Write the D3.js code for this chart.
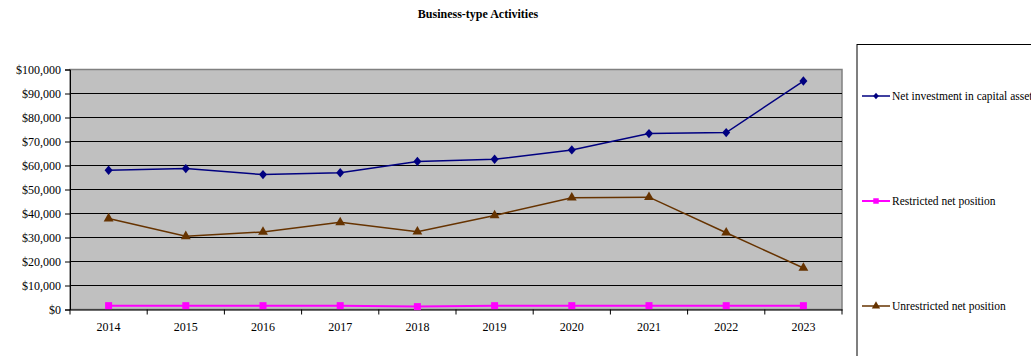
<!DOCTYPE html>
<html>
<head>
<meta charset="utf-8">
<script src="https://cdn.jsdelivr.net/npm/d3@7/dist/d3.min.js"></script>
<style>
  html, body { margin: 0; padding: 0; background: #fff; }
  svg { display: block; }
  svg text { font-family: "Liberation Serif", "Times New Roman", "DejaVu Serif", serif; }
</style>
</head>
<body>
<svg id="chart" width="1031" height="356"></svg>
<script>
// Fiscal years shown on the x axis
const years = ["2014", "2015", "2016", "2017", "2018", "2019", "2020", "2021", "2022", "2023"];

// Net position components (in thousands of dollars)
const netInvestment = [58000, 58700, 56200, 57000, 61700, 62600, 66500, 73300, 73700, 95200];
const restricted = [1600, 1600, 1600, 1600, 1200, 1600, 1600, 1600, 1600, 1600];
const unrestricted = [37900, 30500, 32300, 36300, 32400, 39200, 46600, 46800, 32000, 17300];

const seriesNames = ["Net investment in capital assets", "Restricted net position", "Unrestricted net position"];
const yTicks = [0, 10000, 20000, 30000, 40000, 50000, 60000, 70000, 80000, 90000, 100000];

// A squat diamond, close to square proportions
const wideDiamond = {
  draw(ctx, size) {
    const r = Math.sqrt(size) / 2 * 1.15;
    ctx.moveTo(0, -r * 1.05);
    ctx.lineTo(r * 0.9, 0);
    ctx.lineTo(0, r * 1.05);
    ctx.lineTo(-r * 0.9, 0);
    ctx.closePath();
  }
};

const series = [
  { name: seriesNames[0], values: netInvestment, color: "#000080", symbol: wideDiamond, size: 60, width: 1.5 },
  { name: seriesNames[1], values: restricted, color: "#FF00FF", symbol: d3.symbolSquare, size: 49, width: 2 },
  { name: seriesNames[2], values: unrestricted, color: "#663300", symbol: d3.symbolTriangle, size: 42, width: 1.5 }
];

const svg = d3.select("#chart");
const plot = { left: 70, right: 842, top: 69.5, bottom: 309.5 };

const x = d3.scaleBand().domain(years).range([plot.left, plot.right]);
const y = d3.scaleLinear().domain([0, 100000]).range([plot.bottom, plot.top]);
const serif = "Liberation Serif, Times New Roman, serif";

// Title
svg.append("text")
  .attr("x", 478).attr("y", 18)
  .attr("text-anchor", "middle")
  .attr("font-family", serif)
  .attr("font-size", 12).attr("font-weight", "bold")
  .text("Business-type Activities");

// Plot background
svg.append("rect")
  .attr("x", plot.left).attr("y", plot.top)
  .attr("width", plot.right - plot.left).attr("height", plot.bottom - plot.top)
  .attr("fill", "#C0C0C0").attr("stroke", "#808080").attr("stroke-width", 1.5);

// Horizontal gridlines
svg.append("g").selectAll("line")
  .data(yTicks.filter(t => t > 0 && t < 100000))
  .join("line")
  .attr("x1", plot.left).attr("x2", plot.right)
  .attr("y1", d => y(d)).attr("y2", d => y(d))
  .attr("stroke", "#000").attr("stroke-width", 1.2);

// Y axis
const yAxis = svg.append("g")
  .attr("transform", `translate(${plot.left},0)`)
  .call(d3.axisLeft(y).tickValues(yTicks).tickSize(5).tickPadding(4)
    .tickFormat(d => "$" + d3.format(",")(d)));
yAxis.attr("font-family", serif);
yAxis.select(".domain").attr("stroke", "#000");
yAxis.selectAll(".tick line").attr("stroke", "#000");
yAxis.selectAll("text").attr("font-size", 12).attr("fill", "#000")
  .attr("font-family", serif);

// X axis with ticks between categories
const xAxis = svg.append("g")
  .attr("transform", `translate(0,${plot.bottom})`)
  .call(d3.axisBottom(x).tickSize(0).tickPadding(13));
xAxis.attr("font-family", serif);
xAxis.select(".domain").attr("stroke", "#000").attr("stroke-width", 1.2);
xAxis.selectAll("text").attr("font-size", 12).attr("fill", "#000")
  .attr("font-family", serif);
svg.append("g").selectAll("line")
  .data(years.map((d, i) => i).concat([years.length]))
  .join("line")
  .attr("x1", i => plot.left + i * x.step()).attr("x2", i => plot.left + i * x.step())
  .attr("y1", plot.bottom).attr("y2", plot.bottom + 5)
  .attr("stroke", "#000");

// Lines and markers
const line = d3.line()
  .x((d, i) => x(years[i]) + x.bandwidth() / 2)
  .y(d => y(d));

series.forEach(s => {
  svg.append("path")
    .datum(s.values)
    .attr("fill", "none")
    .attr("stroke", s.color)
    .attr("stroke-width", s.width)
    .attr("d", line);
  svg.append("g").selectAll("path")
    .data(s.values)
    .join("path")
    .attr("transform", (d, i) => `translate(${x(years[i]) + x.bandwidth() / 2},${y(d)})`)
    .attr("d", d3.symbol().type(s.symbol).size(s.size))
    .attr("fill", s.color);
});

// Legend
const legend = svg.append("g");
legend.append("rect")
  .attr("x", 857).attr("y", 44.5)
  .attr("width", 200).attr("height", 340)
  .attr("fill", "#fff").attr("stroke", "#000").attr("stroke-width", 1);

const legendY = [96, 201, 306];
series.forEach((s, i) => {
  const g = legend.append("g").attr("transform", `translate(0,${legendY[i]})`);
  g.append("line").attr("x1", 862).attr("x2", 890).attr("y1", 0).attr("y2", 0)
    .attr("stroke", s.color).attr("stroke-width", s.width);
  g.append("path").attr("transform", "translate(876,0)")
    .attr("d", d3.symbol().type(s.symbol).size(30))
    .attr("fill", s.color);
  g.append("text").attr("x", 892).attr("y", 4)
    .attr("font-family", serif)
    .attr("font-size", 11.5).text(s.name);
});
</script>
</body>
</html>
